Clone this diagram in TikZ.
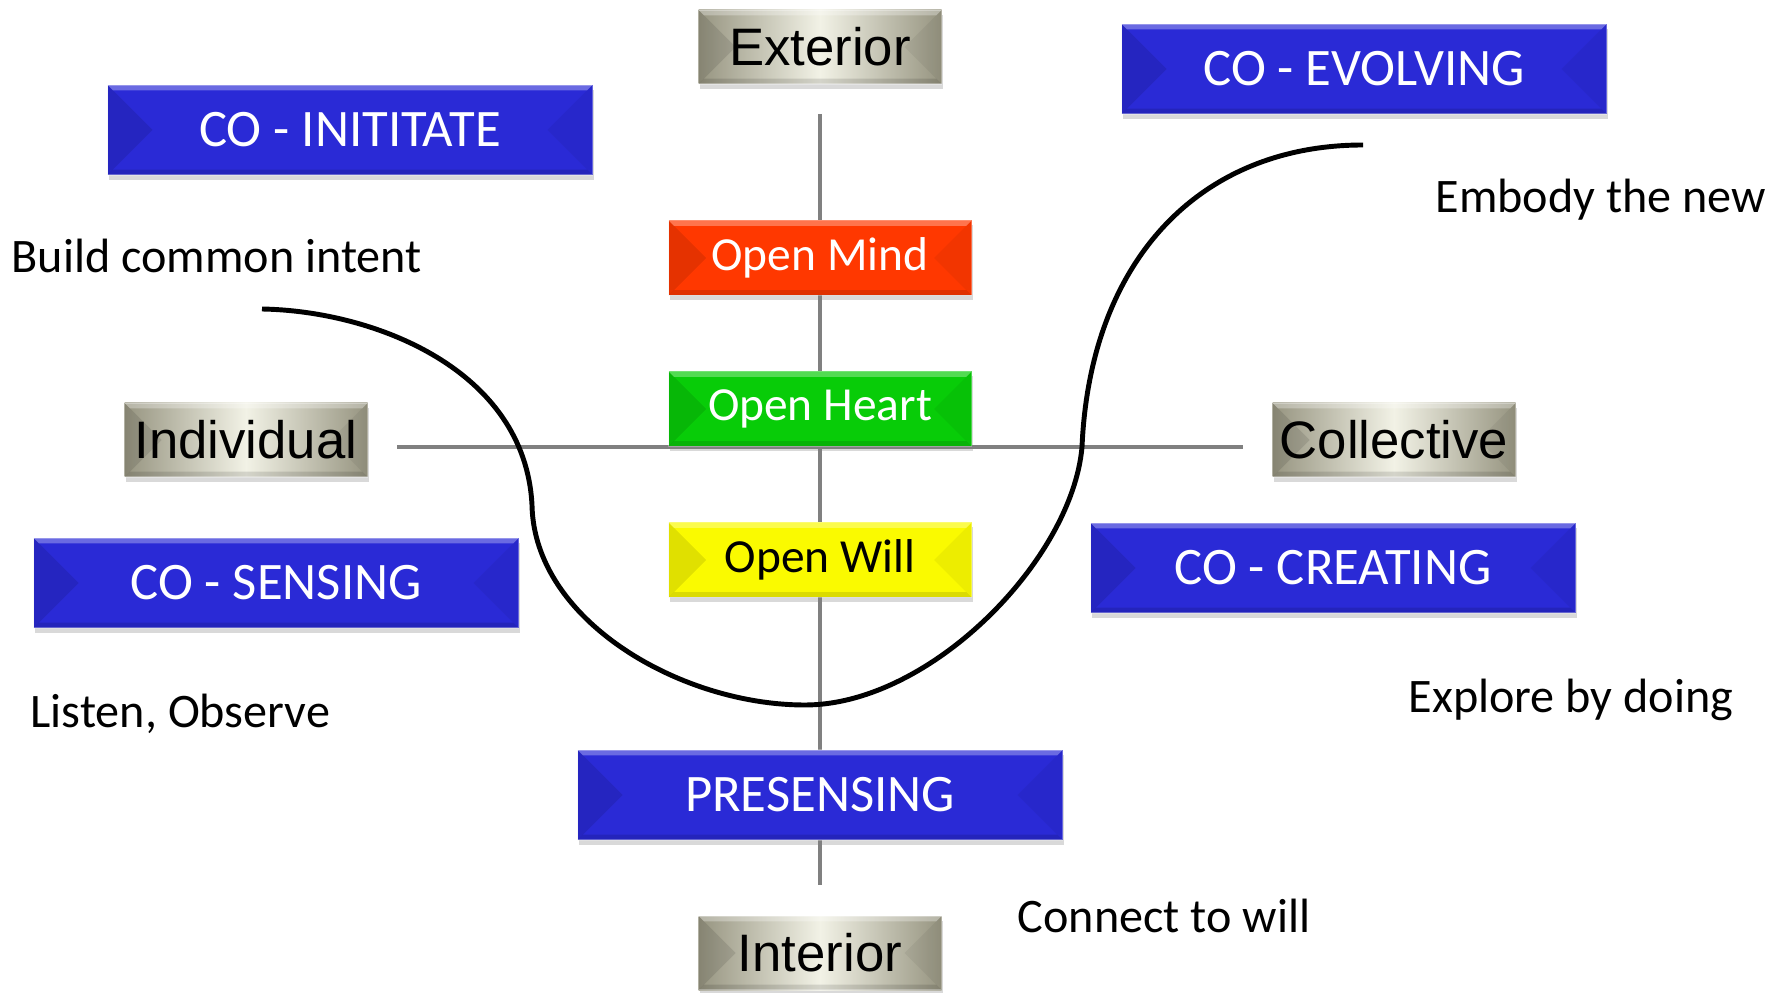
\documentclass[tikz,border=0pt]{standalone}
\usepackage{fontspec}
\setmainfont{Carlito}
\newfontfamily\arialfont{Liberation Sans}
\usetikzlibrary{shadows,calc}

\definecolor{coblue}{RGB}{42,42,214}
\definecolor{mindred}{RGB}{255,56,0}
\definecolor{heartgreen}{RGB}{8,204,8}
\definecolor{willyellow}{RGB}{250,250,0}
\definecolor{axisgray}{RGB}{128,128,128}
\definecolor{metaldark}{RGB}{150,148,128}
\definecolor{metallight}{RGB}{242,242,230}

\begin{document}
\begin{tikzpicture}[x=0.1mm, y=-0.1mm,
    bevel/.style={path picture={
        \fill[black, opacity=.1] let \p1=(path picture bounding box.north west), \p2=(path picture bounding box.south east), \n1={0.5*(\y1-\y2)} in
            (\x1,\y1) -- ({\x1+\n1},{\y1-\n1}) -- (\x1,\y2) -- cycle;
        \fill[black, opacity=.05] let \p1=(path picture bounding box.north west), \p2=(path picture bounding box.south east), \n1={0.5*(\y1-\y2)} in
            (\x2,\y1) -- ({\x2-\n1},{\y1-\n1}) -- (\x2,\y2) -- cycle;
        \fill[white, opacity=.3] let \p1=(path picture bounding box.north west), \p2=(path picture bounding box.south east) in
            (\x1,\y1) -- (\x2,\y1) -- ({\x2-1.5pt},{\y1-1.5pt}) -- ({\x1+1.5pt},{\y1-1.5pt}) -- cycle;
        \fill[black, opacity=.12] let \p1=(path picture bounding box.north west), \p2=(path picture bounding box.south east) in
            (\x1,\y2) -- (\x2,\y2) -- ({\x2-1.5pt},{\y2+1.5pt}) -- ({\x1+1.5pt},{\y2+1.5pt}) -- cycle;
    }},
    box/.style={rectangle, inner sep=0pt, draw=white, draw opacity=.3, line width=.4pt,
        drop shadow={shadow xshift=.5pt, shadow yshift=-1.3pt, opacity=.3}, bevel},
    cobox/.style={box, fill=coblue, text=white, minimum width=48.5mm, minimum height=9mm,
        font=\fontsize{15pt}{18pt}\selectfont},
    openbox/.style={box, minimum width=30.3mm, minimum height=7.5mm,
        font=\fontsize{13.5pt}{16pt}\selectfont},
    metalbox/.style={box, left color=metaldark, right color=metaldark, middle color=metallight,
        minimum width=24.3mm, minimum height=7.4mm, font=\arialfont\fontsize{15pt}{18pt}\selectfont},
    note/.style={anchor=base west, inner sep=0pt, font=\fontsize{13.7pt}{16pt}\selectfont},
    axisline/.style={draw=axisgray, line width=1.4pt},
    ucurve/.style={line width=1.4pt}]

    \useasboundingbox (0,0) rectangle (1783,993);

    \coordinate (vtop) at (820,114);
    \coordinate (vbot) at (820,885);
    \coordinate (hleft) at (397,447);
    \coordinate (hright) at (1243,447);
    \draw[axisline] (vtop) -- (vbot);
    \draw[axisline] (hleft) -- (hright);

    \node[metalbox] (ext) at (820,47) {Exterior};
    \node[metalbox] (int) at (820,953) {Interior};
    \node[metalbox] (ind) at (246,440) {Individual};
    \node[metalbox] (col) at (1394,440) {Collective};

    \node[cobox] (init) at (350,130) {CO - INITITATE};
    \node[cobox] (evol) at (1364,69) {CO - EVOLVING};
    \node[cobox] (sens) at (276,583) {CO - SENSING};
    \node[cobox] (creat) at (1333,568) {CO - CREATING};
    \node[cobox] (pres) at (820,795) {PRESENSING};

    \node[openbox, fill=mindred, text=white] (mind) at (820,258) {Open Mind};
    \node[openbox, fill=heartgreen, text=white] (heart) at (820,409) {Open Heart};
    \node[openbox, fill=willyellow] (will) at (820,560) {Open Will};

    \node[note] (intent) at (11,273) {Build common intent};
    \node[note] (embody) at (1435,213) {Embody the new};
    \node[note] (listen) at (30,727) {Listen, Observe};
    \node[note] (explore) at (1408,712) {Explore by doing};
    \node[note] (connect) at (1017,932) {Connect to will};

    \coordinate (ustart) at (262,309);
    \coordinate (uend) at (1363,145);
    \draw[ucurve] (ustart) .. controls (375,311) and (525,370) .. (532,505)
        .. controls (534,620) and (680,705) .. (805,705)
        .. controls (930,705) and (1072,560) .. (1082,447)
        .. controls (1090,260) and (1200,145) .. (uend);
\end{tikzpicture}
\end{document}
